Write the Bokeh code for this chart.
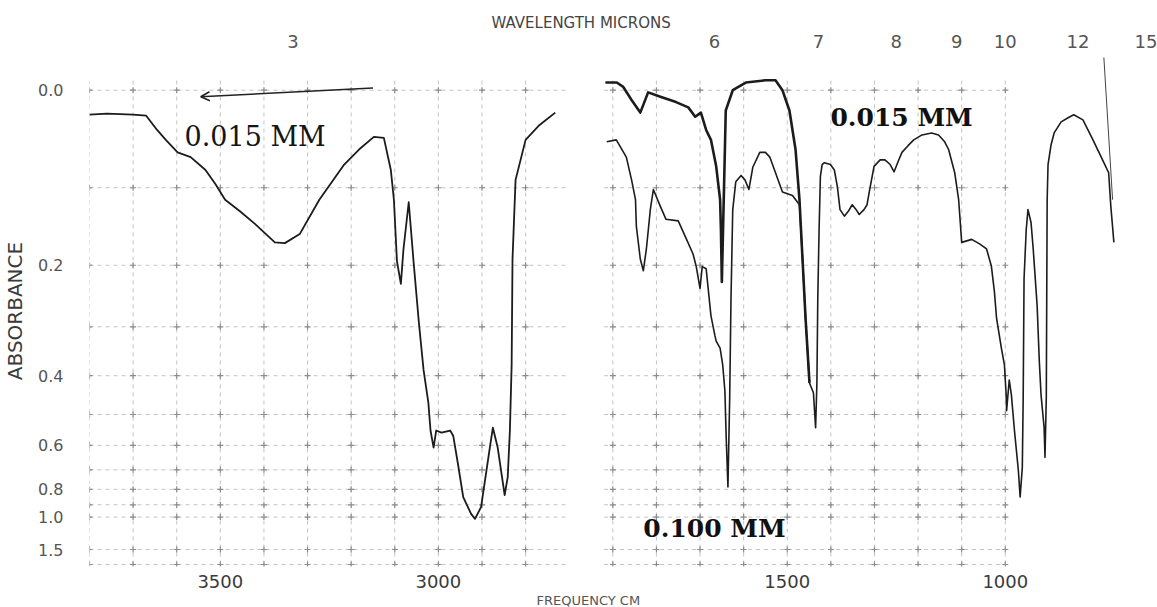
import numpy as np
from bokeh.plotting import figure
from bokeh.models import Range1d, LinearAxis, FixedTicker, Label, Arrow, OpenHead, Title
from bokeh.embed import file_html
from bokeh.resources import INLINE

# ---------------- spectra (wavenumber cm-1, absorbance) ----------------
# 0.015 mm film, 3800-2700 cm-1
film015_hi_nu = [3800, 3760, 3700, 3670, 3645, 3625, 3598, 3568, 3534, 3511,
                 3489, 3455, 3420, 3375, 3352, 3318, 3273, 3216, 3182, 3148,
                 3125, 3109, 3102, 3095, 3086, 3080, 3068, 3057, 3045, 3034,
                 3023, 3018, 3011, 3005, 2993, 2973, 2966, 2955, 2943, 2925,
                 2916, 2902, 2893, 2882, 2875, 2864, 2848, 2841, 2836, 2832,
                 2830, 2823, 2800, 2768, 2732]
film015_hi_abs = [0.023, 0.022, 0.023, 0.024, 0.038, 0.048, 0.061, 0.066, 0.080, 0.096,
                  0.114, 0.128, 0.144, 0.168, 0.169, 0.157, 0.114, 0.074, 0.058, 0.045,
                  0.046, 0.080, 0.114, 0.194, 0.228, 0.177, 0.117, 0.194, 0.290, 0.387,
                  0.467, 0.549, 0.608, 0.549, 0.556, 0.549, 0.566, 0.675, 0.847, 0.972,
                  1.017, 0.916, 0.750, 0.608, 0.540, 0.608, 0.834, 0.735, 0.549, 0.376,
                  0.191, 0.091, 0.048, 0.033, 0.021]

# 0.015 mm film, 1920-1440 cm-1
film015_lo_nu = [1917, 1891, 1876, 1857, 1837, 1819, 1791, 1755, 1727, 1711,
                 1698, 1686, 1675, 1663, 1654, 1652, 1650, 1643, 1641, 1625,
                 1595, 1550, 1527, 1511, 1495, 1481, 1472, 1465, 1458, 1449]
film015_lo_abs = [-0.007, -0.007, -0.003, 0.009, 0.021, 0.002, 0.006, 0.011, 0.016, 0.025,
                  0.021, 0.038, 0.048, 0.076, 0.114, 0.154, 0.225, 0.058, 0.019, 0.000,
                  -0.007, -0.009, -0.009, 0.000, 0.019, 0.058, 0.114, 0.191, 0.285, 0.417]

# 0.100 mm film, 1915-750 cm-1
film100_nu = [1914, 1892, 1869, 1857, 1848, 1846, 1837, 1830, 1823, 1814,
              1807, 1791, 1778, 1750, 1734, 1716, 1709, 1700, 1695, 1686,
              1675, 1666, 1663, 1654, 1648, 1643, 1640, 1636, 1632, 1629,
              1625, 1618, 1606, 1597, 1588, 1579, 1563, 1550, 1540, 1527,
              1511, 1488, 1472, 1465, 1458, 1449, 1440, 1435, 1432, 1430,
              1427, 1424, 1420, 1415, 1401, 1392, 1385, 1379, 1369, 1360,
              1351, 1342, 1335, 1324, 1317, 1312, 1301, 1287, 1276, 1264,
              1255, 1246, 1237, 1223, 1210, 1191, 1169, 1153, 1139, 1130,
              1116, 1107, 1100, 1077, 1059, 1043, 1032, 1025, 1020, 1009,
              1002, 998, 997, 991, 986, 979, 970, 966, 961, 959,
              957, 952, 948, 941, 936, 927, 922, 918, 911, 909,
              906, 905, 904, 902, 895, 888, 872, 856, 843, 822,
              799, 774, 763, 758, 751]
film100_abs = [0.050, 0.048, 0.066, 0.091, 0.114, 0.147, 0.191, 0.208, 0.177, 0.126,
               0.102, 0.122, 0.138, 0.140, 0.160, 0.184, 0.201, 0.235, 0.202, 0.205,
               0.280, 0.316, 0.327, 0.341, 0.376, 0.436, 0.572, 0.787, 0.454, 0.251,
               0.126, 0.093, 0.086, 0.091, 0.102, 0.077, 0.061, 0.061, 0.066, 0.083,
               0.105, 0.109, 0.120, 0.191, 0.285, 0.417, 0.441, 0.540, 0.417, 0.251,
               0.151, 0.087, 0.074, 0.072, 0.074, 0.080, 0.099, 0.126, 0.134, 0.128,
               0.120, 0.126, 0.132, 0.126, 0.120, 0.105, 0.076, 0.069, 0.069, 0.074,
               0.082, 0.071, 0.061, 0.054, 0.048, 0.043, 0.041, 0.043, 0.050, 0.058,
               0.083, 0.114, 0.168, 0.164, 0.170, 0.177, 0.201, 0.240, 0.285, 0.341,
               0.376, 0.447, 0.489, 0.410, 0.447, 0.549, 0.704, 0.847, 0.690, 0.454,
               0.220, 0.151, 0.126, 0.142, 0.177, 0.263, 0.368, 0.447, 0.540, 0.646,
               0.454, 0.251, 0.114, 0.074, 0.053, 0.041, 0.030, 0.026, 0.023, 0.028,
               0.048, 0.072, 0.083, 0.122, 0.168]

# pen stroke at the end of the run
pen_nu = [774, 754]
pen_abs = [-0.029, 0.114]

# marker arrow by the 0.015 mm trace
arrow_nu = [3150, 3545]
arrow_abs = [-0.002, 0.006]

# ---------------- axes and chart paper ----------------
abs_ticks = [0.0, 0.2, 0.4, 0.6, 0.8, 1.0, 1.5]
abs_labels = ["0.0", "0.2", "0.4", "0.6", "0.8", "1.0", "1.5"]
grid_abs = [0.0, 0.1, 0.2, 0.3, 0.4, 0.5, 0.6, 0.7, 0.8, 0.9, 1.0, 1.5]
freq_ticks_hi = [3500, 3000]
freq_ticks_lo = [1500, 1000]
micron_ticks_hi = [3]
micron_ticks_lo = [6, 7, 8, 9, 10, 12, 15]
grid_cols_hi = list(range(3800, 2799, -100))
grid_cols_lo = list(range(1900, 999, -100))


def trans(a):
    """Chart paper is linear in transmittance: T = 10^-A."""
    return [round(float(v), 6) for v in 10.0 ** (-np.asarray(a, dtype=float))]


def t_of(a):
    return round(float(10.0 ** (-a)), 6)


LEFT_START, LEFT_END = 3800, 1351
SHIFT = 700          # the 2700-2000 cm-1 stretch is cut out of the chart
HI_END = 2700
LO_START = 1920

p = figure(width=1157, height=607, output_backend="svg", toolbar_location=None,
           x_range=Range1d(LEFT_START, LEFT_END), y_range=Range1d(-0.0042, 1.0732),
           x_axis_location=None, y_axis_location=None,
           min_border_left=83, min_border_right=0, min_border_top=55, min_border_bottom=37)
p.extra_x_ranges = {"lo": Range1d(LEFT_START - SHIFT, LEFT_END - SHIFT)}
p.outline_line_color = None
p.background_fill_color = "white"
p.border_fill_color = "white"
p.grid.visible = False

# absorbance axis
yt = trans(abs_ticks)
yaxis = LinearAxis(ticker=FixedTicker(ticks=yt),
                   major_label_overrides={t: s for t, s in zip(yt, abs_labels)},
                   axis_label="ABSORBANCE")
yaxis.axis_line_color = None
yaxis.major_tick_line_color = None
yaxis.minor_tick_line_color = None
yaxis.major_label_standoff = 20
yaxis.major_label_text_font = "DejaVu Sans"
yaxis.major_label_text_font_size = "16px"
yaxis.major_label_text_color = "#555555"
yaxis.axis_label_text_font = "DejaVu Sans"
yaxis.axis_label_text_font_size = "20px"
yaxis.axis_label_text_font_style = "normal"
yaxis.axis_label_text_color = "#3a3a3a"
yaxis.axis_label_standoff = 8
p.add_layout(yaxis, "left")

# frequency axis (ticks of the low-frequency part shifted across the break)
xt = freq_ticks_hi + [t + SHIFT for t in freq_ticks_lo]
xaxis = LinearAxis(ticker=FixedTicker(ticks=xt),
                   major_label_overrides={t + SHIFT: str(t) for t in freq_ticks_lo})
xaxis.axis_line_color = None
xaxis.major_tick_line_color = None
xaxis.minor_tick_line_color = None
xaxis.major_label_standoff = 2
xaxis.major_label_text_font = "DejaVu Sans"
xaxis.major_label_text_font_size = "18px"
xaxis.major_label_text_color = "#3a3a3a"
p.add_layout(xaxis, "below")
p.add_layout(Title(text="FREQUENCY CM", align="left", offset=447, standoff=0,
                   text_font="DejaVu Sans", text_font_size="13px", text_font_style="normal",
                   text_color="#555555"), "below")

# wavelength axis
wt_hi = [10000.0 / m for m in micron_ticks_hi]
wt_lo = [10000.0 / m + SHIFT for m in micron_ticks_lo]
wt = [round(v, 4) for v in wt_hi + wt_lo]
wlabels = [str(m) for m in micron_ticks_hi + micron_ticks_lo]
waxis = LinearAxis(ticker=FixedTicker(ticks=wt),
                   major_label_overrides={t: s for t, s in zip(wt, wlabels)})
waxis.axis_line_color = None
waxis.major_tick_line_color = None
waxis.minor_tick_line_color = None
waxis.major_label_standoff = 2
waxis.major_label_text_font = "DejaVu Sans"
waxis.major_label_text_font_size = "18px"
waxis.major_label_text_color = "#555555"
p.add_layout(waxis, "above")
p.add_layout(Title(text="WAVELENGTH MICRONS", align="left", offset=402, standoff=0,
                   text_font="DejaVu Sans", text_font_size="15px", text_font_style="normal",
                   text_color="#444444"), "above")

# chart-paper grid
grid_t = trans(grid_abs) + [0.0]
grid_style = dict(line_color="#c4c4c4", line_width=1, line_dash="4 4")
top_t = t_of(-0.009)
p.segment(x0=grid_cols_hi, y0=[0.0] * len(grid_cols_hi), x1=grid_cols_hi,
          y1=[top_t] * len(grid_cols_hi), **grid_style)
p.segment(x0=grid_cols_lo, y0=[0.0] * len(grid_cols_lo), x1=grid_cols_lo,
          y1=[top_t] * len(grid_cols_lo), x_range_name="lo", **grid_style)
p.segment(x0=[LEFT_START] * len(grid_t), y0=grid_t, x1=[HI_END] * len(grid_t),
          y1=grid_t, **grid_style)
p.segment(x0=[LO_START] * len(grid_t), y0=grid_t, x1=[grid_cols_lo[-1]] * len(grid_t),
          y1=grid_t, x_range_name="lo", **grid_style)

cx, cy = np.meshgrid(grid_cols_hi, grid_t)
p.scatter(cx.ravel(), cy.ravel(), marker="cross", size=6, line_color="#8c8c8c", line_width=1.2)
cx, cy = np.meshgrid(grid_cols_lo, grid_t)
p.scatter(cx.ravel(), cy.ravel(), marker="cross", size=6, line_color="#8c8c8c",
          line_width=1.2, x_range_name="lo")

# spectra
ink = "#1c1c1c"
p.line(film015_hi_nu, trans(film015_hi_abs), line_color=ink, line_width=1.8, line_join="round")
p.line(film100_nu, trans(film100_abs), line_color=ink, line_width=1.6, line_join="round",
       x_range_name="lo")
p.line(film015_lo_nu, trans(film015_lo_abs), line_color=ink, line_width=2.6, line_join="round",
       x_range_name="lo")
p.line(pen_nu, trans(pen_abs), line_color="#444444", line_width=1.0, x_range_name="lo")

at = trans(arrow_abs)
p.add_layout(Arrow(x_start=arrow_nu[0], y_start=at[0], x_end=arrow_nu[1], y_end=at[1],
                   line_color="#222222", line_width=1.6,
                   end=OpenHead(size=9, line_color="#222222", line_width=1.6)))

# film thickness annotations
p.add_layout(Label(x=3582, y=t_of(0.045), text="0.015 MM", text_font="DejaVu Serif",
                   text_font_size="27px", text_color="#151515", text_baseline="alphabetic"))
p.add_layout(Label(x=1401, y=t_of(0.026), text="0.015 MM", text_font="DejaVu Serif",
                   text_font_size="25px", text_font_style="bold", text_color="#111111",
                   text_baseline="alphabetic", x_range_name="lo"))
p.add_layout(Label(x=1830, y=t_of(1.123), text="0.100 MM", text_font="DejaVu Serif",
                   text_font_size="25px", text_font_style="bold", text_color="#111111",
                   text_baseline="alphabetic", x_range_name="lo"))

open("out.html", "w").write(file_html(p, INLINE))
